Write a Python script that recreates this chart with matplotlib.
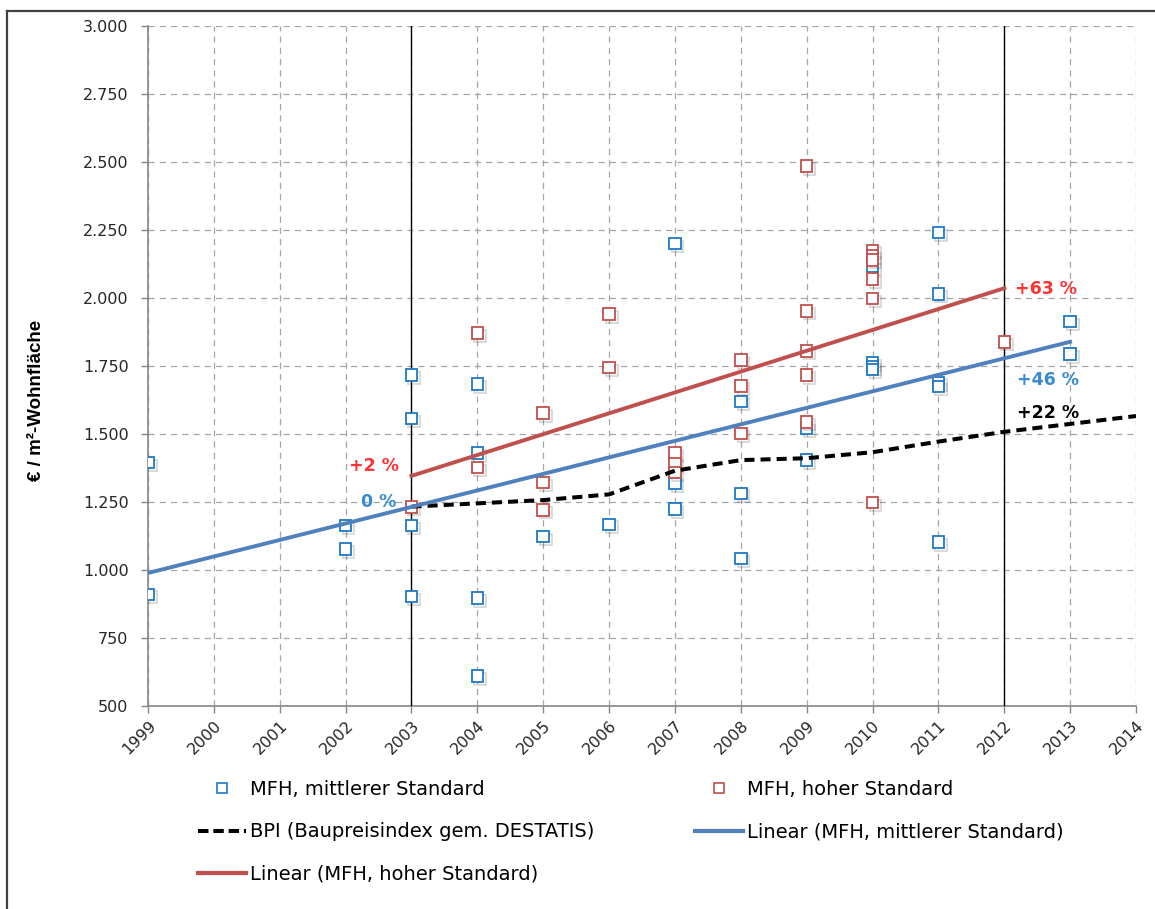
import numpy as np
import matplotlib
matplotlib.use("Agg")
import matplotlib.pyplot as plt
import matplotlib.patheffects as pe
from matplotlib.lines import Line2D
from matplotlib.ticker import FuncFormatter, MultipleLocator

# MFH, mittlerer Standard (year, EUR/m2)
mid_years = [1999, 1999, 2002, 2002, 2003, 2003, 2003, 2003, 2004, 2004, 2004, 2004,
             2005, 2006, 2007, 2007, 2007, 2008, 2008, 2008, 2009, 2009,
             2010, 2010, 2010, 2010, 2011, 2011, 2011, 2011, 2011, 2013, 2013]
mid_values = [1395, 910, 1163, 1077, 1717, 1557, 1163, 902, 1683, 1430, 897, 610,
              1123, 1168, 2200, 1320, 1224, 1620, 1282, 1043, 1521, 1404,
              2115, 1762, 1748, 1737, 2240, 2015, 1690, 1674, 1102, 1913, 1794]

# MFH, hoher Standard
high_years = [2003, 2004, 2004, 2005, 2005, 2005, 2006, 2006, 2007, 2007, 2007,
              2008, 2008, 2008, 2009, 2009, 2009, 2009, 2009,
              2010, 2010, 2010, 2010, 2010, 2010, 2012]
high_values = [1232, 1871, 1376, 1577, 1321, 1221, 1941, 1744, 1430, 1392, 1358,
               1772, 1676, 1501, 2485, 1953, 1806, 1716, 1545,
               2175, 2155, 2140, 2070, 1998, 1248, 1839]

# BPI (Baupreisindex gem. DESTATIS)
bpi_years = [2003, 2004, 2005, 2006, 2007, 2008, 2009, 2010, 2011, 2012, 2013, 2014]
bpi_values = [1233, 1245, 1257, 1278, 1365, 1404, 1411, 1433, 1472, 1508, 1537, 1566]

# trend lines as drawn (start / end)
trend_mid_years = [1999, 2013]
trend_mid_values = [989, 1839]
trend_high_years = [2003, 2012]
trend_high_values = [1346, 2036]

year_ticks = list(range(1999, 2015))

c_mid = "#1f78c4"
c_high = "#c0504d"
c_trend_mid = "#4f81bd"
c_trend_high = "#c0504d"

fig = plt.figure(figsize=(11.55, 9.09), dpi=100)
ax = fig.add_axes([148 / 1155, 1 - 706 / 909, 988 / 1155, 680 / 909])

shadow = [pe.SimpleLineShadow(offset=(2, -2), shadow_color="0.3", alpha=0.22), pe.Normal()]

ax.plot(mid_years, mid_values, ls="none", marker="s", ms=8.3, mfc="white",
        mec=c_mid, mew=1.3, path_effects=shadow, zorder=4)
ax.plot(high_years, high_values, ls="none", marker="s", ms=8.3, mfc="white",
        mec=c_high, mew=1.3, path_effects=shadow, zorder=4)

ax.plot(bpi_years, bpi_values, color="black", lw=2.9, dashes=(2.5, 1.5), zorder=5)
ax.plot(trend_mid_years, trend_mid_values, color=c_trend_mid, lw=2.8, zorder=5)
ax.plot(trend_high_years, trend_high_values, color=c_trend_high, lw=2.8, zorder=5)

# reference years
for yr in (2003, 2012):
    ax.axvline(yr, color="black", lw=1.0, zorder=3)

ax.text(2012.63, 2033, "+63 %", color="#ff3333", fontsize=12.5, fontweight="bold",
        ha="center", va="center")
ax.text(2012.66, 1699, "+46 %", color="#3a8ad0", fontsize=12.5, fontweight="bold",
        ha="center", va="center")
ax.text(2012.66, 1577, "+22 %", color="black", fontsize=12.5, fontweight="bold",
        ha="center", va="center")
ax.text(2002.43, 1382, "+2 %", color="#ff3333", fontsize=12.5, fontweight="bold",
        ha="center", va="center")
ax.text(2002.5, 1250, "0 %", color="#3a8ad0", fontsize=12.5, fontweight="bold",
        ha="center", va="center")

ax.set_xlim(1999, 2014)
ax.set_ylim(500, 3000)
ax.set_xticks(year_ticks)
ax.set_xticklabels([str(y) for y in year_ticks], rotation=45, ha="right",
                   rotation_mode="anchor", fontsize=11.5, color="#262626")
ax.yaxis.set_major_locator(MultipleLocator(250))
ax.yaxis.set_major_formatter(FuncFormatter(lambda v, p: f"{v:,.0f}".replace(",", ".")))
ax.tick_params(axis="y", labelsize=11.5, labelcolor="#262626", pad=9)
ax.tick_params(direction="out", length=5, color="#868686", width=1)
ax.grid(True, color="#a6a6a6", ls=(0, (5, 4)), lw=0.9, zorder=0)
ax.set_axisbelow(True)
for s in ("top", "right"):
    ax.spines[s].set_visible(False)
for s in ("left", "bottom"):
    ax.spines[s].set_color("#868686")
    ax.spines[s].set_linewidth(1.2)

fig.text(37 / 1155, 1 - 400 / 909, "€ / m²-Wohnfläche", rotation=90, ha="center", va="center",
         fontsize=13.5, fontweight="bold", family=["Liberation Sans", "DejaVu Sans"])

# legend (two columns, Excel-style row order)
h_mid = Line2D([], [], ls="none", marker="s", ms=6.5, mfc="white", mec=c_mid, mew=1.2)
h_high = Line2D([], [], ls="none", marker="s", ms=6.5, mfc="white", mec=c_high, mew=1.2)
h_bpi = Line2D([], [], color="black", lw=2.9, dashes=(2.6, 1.2))
h_tmid = Line2D([], [], color=c_trend_mid, lw=3)
h_thigh = Line2D([], [], color=c_trend_high, lw=3)

leg_kw = dict(frameon=False, loc="upper left", borderpad=0, borderaxespad=0,
              handlelength=2.45, handletextpad=0.2, labelspacing=1.2,
              prop={"size": 14})
fig.legend([h_mid, h_bpi, h_thigh],
           ["MFH, mittlerer Standard", "BPI (Baupreisindex gem. DESTATIS)", "Linear (MFH, hoher Standard)"],
           bbox_to_anchor=(198 / 1155, 1 - 780 / 909), **leg_kw)
fig.legend([h_high, h_tmid],
           ["MFH, hoher Standard", "Linear (MFH, mittlerer Standard)"],
           bbox_to_anchor=(695 / 1155, 1 - 780 / 909), **leg_kw)

# frame edge of the screenshot (left and top)
fig.add_artist(Line2D([7 / 1155, 7 / 1155], [0, 1 - 11 / 909], transform=fig.transFigure,
                      color="#404040", lw=1.6))
fig.add_artist(Line2D([7 / 1155, 1], [1 - 11 / 909, 1 - 11 / 909], transform=fig.transFigure,
                      color="#404040", lw=1.6))

fig.savefig("out.png", dpi=100, facecolor="white")
